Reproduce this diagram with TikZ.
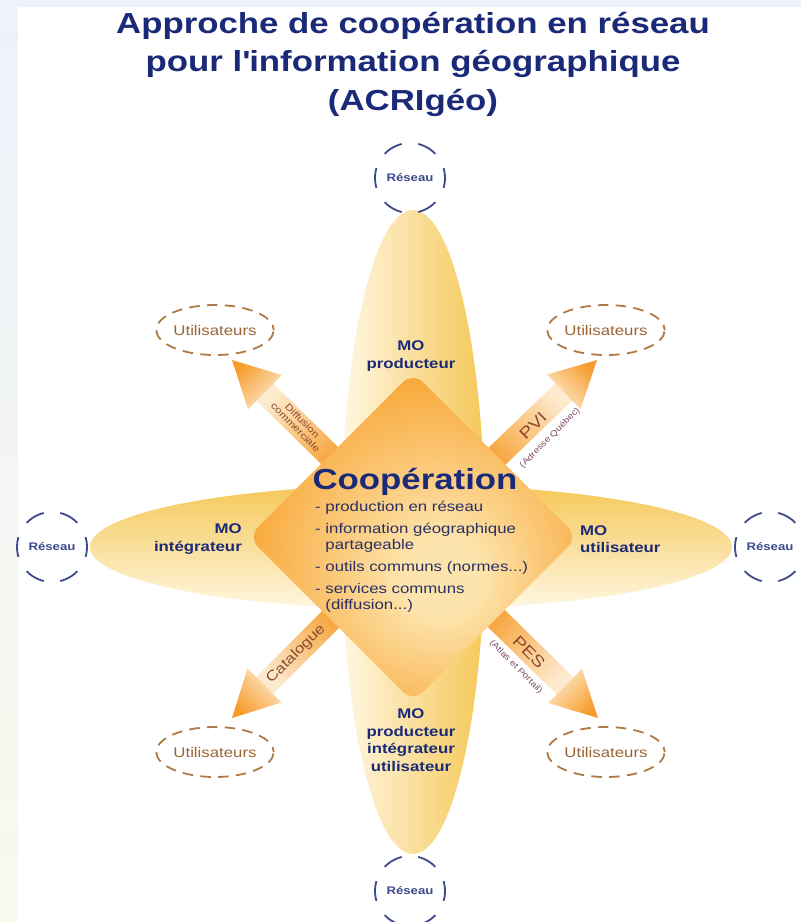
\documentclass[tikz,border=0pt]{standalone}
\usepackage{fontspec}
\setmainfont{Liberation Sans}[FakeStretch=1.2]
\usetikzlibrary{shapes.geometric, calc, positioning}

\definecolor{bgblue}{HTML}{EDF2FB}
\definecolor{bgcream}{HTML}{F8F9EC}
\definecolor{navy}{HTML}{1B2A78}
\definecolor{slate}{HTML}{2A3064}
\definecolor{netblue}{HTML}{3C4A8C}
\definecolor{userbrown}{HTML}{B07A45}
\definecolor{usertext}{HTML}{9A6535}
\definecolor{gold}{HTML}{F5C858}
\definecolor{goldlight}{HTML}{FFF7E2}
\definecolor{glowin}{HTML}{FDE4AC}
\definecolor{glowout}{HTML}{F79B22}
\definecolor{arroworange}{HTML}{F79C2C}
\definecolor{arrowlight}{HTML}{FDEBCF}
\definecolor{flowtext}{HTML}{8C4A30}
\definecolor{smalltext}{HTML}{7A4A6A}

\pgfdeclareradialshading{coopglow}{\pgfpoint{5bp}{-7bp}}{%
  color(0bp)=(glowin); color(6bp)=(glowin);
  color(32bp)=(glowout); color(50bp)=(glowout)}

\tikzset{
  coopbox/.style={diamond, minimum width=330, minimum height=330, inner sep=0,
    rounded corners=14pt, shade, shading=coopglow},
  molabel/.style={font=\fontsize{14}{17.5}\selectfont\bfseries, text=navy, inner sep=0},
  reseau/.style={circle, minimum size=70, inner sep=0, draw=netblue, line width=1.8pt,
    dash pattern=on 20pt off 16.65pt, dash phase=10pt,
    font=\fontsize{11}{12}\selectfont\bfseries, text=netblue},
  users/.style={ellipse, minimum width=104, minimum height=50, inner sep=0,
    draw=userbrown, line width=1.8pt, dash pattern=on 10.5pt off 7.3pt, dash phase=5.25pt,
    font=\fontsize{14}{16}\selectfont, text=usertext},
  flowlabel/.style={font=\fontsize{#1}{#1}\selectfont, text=flowtext, inner sep=0},
  smalllabel/.style={font=\fontsize{8.3}{9}\selectfont, text=smalltext, inner sep=0}
}

% broad arrow from the centre towards #1, shading turned by #2
\newcommand\flowarrow[2]{%
  \coordinate (fa-b) at ($(ctr)!95pt!(#1)$);
  \coordinate (fa-h) at ($(#1)!46pt!(ctr)$);
  \shade[top color=arrowlight, bottom color=arroworange, shading angle=#2]
    ($(fa-b)!12pt!90:(#1)$) -- ($(fa-h)!12pt!-90:(fa-b)$)
    -- ($(fa-h)!12pt!90:(fa-b)$) -- ($(fa-b)!12pt!-90:(#1)$) -- cycle;
  \shade[top color=arroworange, bottom color=arrowlight, shading angle=#2]
    ($(fa-h)!24pt!90:(#1)$) -- (#1) -- ($(fa-h)!24pt!-90:(#1)$) -- cycle;
}

\begin{document}
\begin{tikzpicture}[x=1pt, y=-1pt]
    \useasboundingbox (0,0) rectangle (801,922);
    % fond
    \shade[top color=bgblue, bottom color=bgcream] (0,0) rectangle (801,922);
    \fill[white] (18,7) rectangle (801,922);

    % titre
    \node[font=\fontsize{29}{38.5}\selectfont\bfseries, text=navy, align=center] (title) at (413,64)
        {Approche de coopération en réseau\\pour l\textquotesingle information géographique\\(ACRIgéo)};

    % ellipses
    \shade[left color=goldlight, right color=gold] (413,532) ellipse [x radius=72, y radius=322];
    \shade[top color=gold, bottom color=goldlight] (411,547) ellipse [x radius=321, y radius=62];

    % fleches
    \coordinate (ctr) at (413,537);
    \coordinate (tip-nw) at (232,360);
    \coordinate (tip-ne) at (597,360);
    \coordinate (tip-sw) at (232,718);
    \coordinate (tip-se) at (598,718);
    \flowarrow{tip-nw}{45}
    \flowarrow{tip-ne}{-45}
    \flowarrow{tip-sw}{135}
    \flowarrow{tip-se}{225}

    % losange central
    \node[coopbox] (coop) at (ctr) {};
    \node[font=\fontsize{29}{30}\selectfont\bfseries, text=navy] (coop-title) at (415,482) {Coopération};
    \node[font=\fontsize{14}{16}\selectfont, text=slate, align=left, anchor=north west, inner sep=0] (coop-items) at (315,501) {%
        - production en réseau\\[6pt]
        - information géographique\\\hphantom{- }partageable\\[6pt]
        - outils communs (normes...)\\[6pt]
        - services communs\\\hphantom{- }(diffusion...)};

    % MO
    \node[molabel, align=center] (mo-top) at (411,356) {MO\\producteur};
    \node[molabel, align=right, anchor=east] (mo-left) at (242,539) {MO\\intégrateur};
    \node[molabel, align=left, anchor=west] (mo-right) at (580,539) {MO\\utilisateur};
    \node[molabel, align=center] (mo-bottom) at (411,740) {MO\\producteur\\intégrateur\\utilisateur};

    % libelles des fleches
    \node[flowlabel=9.5, rotate=-45, align=center] (lbl-diff) at (299,424) {Diffusion\\commerciale};
    \node[flowlabel=16, rotate=45] (lbl-pvi) at (533,426) {PVI};
    \node[smalllabel, rotate=45] (lbl-adr) at (550,438) {(Adresse Québec)};
    \node[flowlabel=14, rotate=45] (lbl-cat) at (296,654) {Catalogue};
    \node[flowlabel=16, rotate=-45] (lbl-pes) at (529,652) {PES};
    \node[smalllabel, rotate=-45] (lbl-atlas) at (516,667) {(Atlas et Portail)};

    % reseaux
    \node[reseau] (res-top) at (410,178) {Réseau};
    \node[reseau] (res-left) at (52,547) {Réseau};
    \node[reseau] (res-right) at (770,547) {Réseau};
    \node[reseau] (res-bottom) at (410,891) {Réseau};

    % utilisateurs
    \node[users] (us-nw) at (215,330) {Utilisateurs};
    \node[users] (us-ne) at (606,330) {Utilisateurs};
    \node[users] (us-sw) at (215,752) {Utilisateurs};
    \node[users] (us-se) at (606,752) {Utilisateurs};
\end{tikzpicture}
\end{document}
